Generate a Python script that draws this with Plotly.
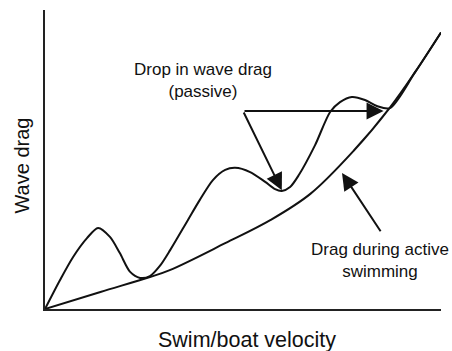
import plotly.graph_objects as go

# Drag during active swimming (smooth rising curve)
vel_active = [0.0, 1.4, 2.65, 3.15, 4.55, 5.7, 6.7, 7.8, 8.7, 9.35, 10.0]
drag_active = [0.0, 0.57, 1.07, 1.3, 2.2, 2.98, 3.85, 5.3, 6.72, 7.93, 9.25]

# Passive drag with wave-drag humps
vel_passive = [0.0, 0.38, 0.71, 1.06, 1.34, 1.64, 1.89, 2.15, 2.4, 2.65, 2.9,
               3.16, 3.61, 3.91, 4.24, 4.55, 4.8, 5.18, 5.56, 5.81, 5.98, 6.19,
               6.41, 6.82, 7.2, 7.45, 7.75, 8.08, 8.38, 8.71, 9.35, 10.0]
drag_passive = [0.0, 0.97, 1.74, 2.37, 2.71, 2.41, 1.87, 1.24, 1.04, 1.1, 1.44,
                1.97, 2.98, 3.65, 4.31, 4.65, 4.72, 4.58, 4.25, 4.01, 3.95, 4.08,
                4.48, 5.48, 6.59, 6.92, 7.09, 6.99, 6.79, 6.72, 7.93, 9.25]

# Arrows: (tail, tip) in data units
drop_origin = (5.0, 6.62)
drop_tips = [(8.55, 6.62), (5.98, 3.97)]
active_tail = (8.5, 2.55)
active_tip = (7.5, 4.55)

FONT = "Liberation Sans, Arial, sans-serif"
INK = "#111111"

fig = go.Figure()
fig.add_trace(go.Scatter(x=vel_active, y=drag_active, mode="lines",
                         line=dict(color=INK, width=2, shape="spline", smoothing=1),
                         hoverinfo="skip", showlegend=False))
fig.add_trace(go.Scatter(x=vel_passive, y=drag_passive, mode="lines",
                         line=dict(color=INK, width=2, shape="spline", smoothing=0.8),
                         hoverinfo="skip", showlegend=False))

arrows = [(drop_origin, t) for t in drop_tips] + [(active_tail, active_tip)]
annotations = []
for (tx, ty), (hx, hy) in arrows:
    annotations.append(dict(x=hx, y=hy, ax=tx, ay=ty, xref="x", yref="y",
                            axref="x", ayref="y", text="", showarrow=True,
                            arrowhead=2, arrowsize=1.7, arrowwidth=2,
                            arrowcolor=INK, standoff=0, startstandoff=0))

labels = [("Drop in wave drag<br>(passive)", 3.99, 7.64),
          ("Drag during active<br>swimming", 8.46, 1.62)]
for txt, lx, ly in labels:
    annotations.append(dict(x=lx, y=ly, xref="x", yref="y", text=txt,
                            showarrow=False, xanchor="center", yanchor="middle",
                            font=dict(family=FONT, size=17, color=INK)))

annotations.append(dict(x=0.51, y=-0.104, xref="paper", yref="paper",
                        text="Swim/boat velocity", showarrow=False,
                        xanchor="center", yanchor="middle",
                        font=dict(family=FONT, size=21.5, color=INK)))
annotations.append(dict(x=-0.058, y=0.48, xref="paper", yref="paper",
                        text="Wave drag", textangle=-90, showarrow=False,
                        xanchor="center", yanchor="middle",
                        font=dict(family=FONT, size=20, color=INK)))

fig.update_layout(
    width=452, height=351,
    margin=dict(l=45, r=11, t=10, b=42),
    paper_bgcolor="white", plot_bgcolor="white",
    annotations=annotations,
    xaxis=dict(range=[0, 10], showgrid=False, zeroline=False, showticklabels=False,
               ticks="", showline=True, linecolor="#222222", linewidth=2),
    yaxis=dict(range=[0, 10], showgrid=False, zeroline=False, showticklabels=False,
               ticks="", showline=True, linecolor="#222222", linewidth=2),
)

fig.write_html("out.html")
